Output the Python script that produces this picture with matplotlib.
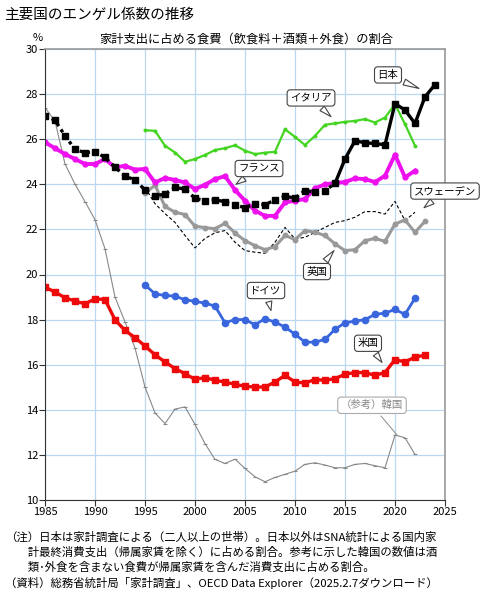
import numpy as np
import matplotlib
matplotlib.use("Agg")
import matplotlib.pyplot as plt

plt.rcParams['font.family'] = ['Noto Sans CJK JP', 'DejaVu Sans']

# ---------------------------------------------------------------
# data
# ---------------------------------------------------------------
yrs_japan = list(range(1985, 2025))
japan = [27.05, 26.84, 26.15, 25.55, 25.40, 25.45, 25.19, 24.76, 24.37, 24.19,
         23.75, 23.48, 23.57, 23.86, 23.79, 23.38, 23.27, 23.32, 23.22, 23.07,
         22.97, 23.13, 23.10, 23.30, 23.47, 23.39, 23.72, 23.66, 23.72, 24.04,
         25.12, 25.93, 25.84, 25.81, 25.75, 27.58, 27.29, 26.70, 27.88, 28.42]
japan_solid_from = 2014

yrs_italy = list(range(1995, 2023))
italy = [26.40, 26.37, 25.71, 25.41, 25.00, 25.12, 25.30, 25.52, 25.60, 25.73,
         25.49, 25.34, 25.40, 25.44, 26.44, 26.10, 25.74, 26.15, 26.64, 26.70,
         26.77, 26.81, 26.89, 26.74, 26.96, 27.55, 26.67, 25.71]

yrs_france = list(range(1985, 2023))
france = [25.86, 25.60, 25.34, 25.12, 24.90, 24.90, 25.12, 24.75, 24.82, 24.65,
          24.68, 24.08, 24.28, 24.19, 24.08, 23.79, 23.98, 24.23, 24.36, 23.75,
          23.27, 22.83, 22.60, 22.60, 23.20, 23.27, 23.35, 23.82, 24.00, 24.06,
          24.10, 24.26, 24.23, 24.10, 24.38, 25.31, 24.31, 24.60]

yrs_sweden = list(range(1995, 2023))
sweden = [23.86, 23.14, 22.70, 22.31, 21.73, 21.18, 21.60, 21.85, 21.95, 21.43,
          21.06, 20.99, 20.94, 21.43, 22.09, 21.58, 21.65, 21.87, 22.09, 22.31,
          22.39, 22.54, 22.79, 22.79, 22.68, 23.24, 22.39, 22.76]

yrs_uk = list(range(1995, 2024))
uk = [23.60, 23.96, 23.02, 22.76, 22.66, 22.14, 22.08, 22.03, 22.27, 21.84,
      21.50, 21.28, 21.10, 21.24, 21.73, 21.55, 21.95, 21.87, 21.73, 21.36,
      21.06, 21.10, 21.50, 21.60, 21.47, 22.24, 22.42, 21.87, 22.36]

yrs_germany = list(range(1995, 2023))
germany = [19.54, 19.14, 19.07, 19.04, 18.88, 18.81, 18.73, 18.60, 17.86, 18.00,
           18.00, 17.77, 18.04, 17.89, 17.67, 17.35, 17.00, 17.00, 17.12, 17.57,
           17.86, 17.93, 18.00, 18.23, 18.29, 18.45, 18.23, 18.95]

yrs_usa = list(range(1985, 2024))
usa = [19.44, 19.22, 18.97, 18.82, 18.70, 18.92, 18.89, 17.99, 17.52, 17.20,
       16.83, 16.44, 16.12, 15.83, 15.60, 15.35, 15.43, 15.31, 15.23, 15.13,
       15.04, 15.01, 15.01, 15.23, 15.53, 15.23, 15.19, 15.34, 15.31, 15.38,
       15.58, 15.65, 15.65, 15.53, 15.65, 16.23, 16.12, 16.34, 16.42]

yrs_korea = list(range(1985, 2023))
korea = [27.40, 26.81, 24.90, 24.01, 23.23, 22.43, 21.14, 19.00, 17.90, 16.74,
         15.01, 13.86, 13.39, 14.03, 14.13, 13.35, 12.50, 11.80, 11.62, 11.81,
         11.40, 11.03, 10.81, 11.00, 11.14, 11.28, 11.58, 11.65, 11.55, 11.43,
         11.43, 11.58, 11.62, 11.52, 11.43, 12.88, 12.76, 12.02]

# callout labels: (text, box centre, tip)
callouts = [
    ("日本", (2019.3, 28.85), (2022.4, 28.25)),
    ("イタリア", (2011.6, 27.83), (2013.6, 27.0)),
    ("フランス", (2006.4, 24.70), (2004.1, 24.0)),
    ("スウェーデン", (2025.0, 23.70), (2022.9, 22.96)),
    ("英国", (2012.2, 20.13), (2013.9, 21.06)),
    ("ドイツ", (2007.1, 19.29), (2007.6, 18.4)),
    ("米国", (2017.3, 16.95), (2018.7, 16.1)),
]
korea_label = ("（参考）韓国", (2017.7, 14.2), (2020.2, 12.88))

notes = [
    "（注）日本は家計調査による（二人以上の世帯）。日本以外はSNA統計による国内家",
    "　　計最終消費支出（帰属家賃を除く）に占める割合。参考に示した韓国の数値は酒",
    "　　類･外食を含まない食費が帰属家賃を含んだ消費支出に占める割合。",
    "（資料）総務省統計局「家計調査」、OECD Data Explorer（2025.2.7ダウンロード）",
]

# ---------------------------------------------------------------
# figure
# ---------------------------------------------------------------
fig = plt.figure(figsize=(4.8, 6.01), dpi=100)
ax = fig.add_axes([45/480, 1-500/601, 400/480, 451/601])

ax.set_xlim(1985, 2025)
ax.set_ylim(10, 30)
ax.set_xticks(range(1985, 2026, 5))
ax.set_yticks(range(10, 31, 2))
ax.grid(True, color='#bcd8f0', linewidth=0.9)
ax.set_axisbelow(True)
ax.tick_params(labelsize=8, length=4, width=0.8, color='#333333', pad=1)
for s in ['left', 'bottom']:
    ax.spines[s].set_color('#333333')
for s in ['top', 'right']:
    ax.spines[s].set_color('#999999')
    ax.spines[s].set_linewidth(1.2)

# Korea (reference)
ax.plot(yrs_korea, korea, color='#888888', lw=0.8, marker='_', ms=3, mew=0.8)
# Sweden
ax.plot(yrs_sweden, sweden, color='black', lw=0.8, ls=(0, (3, 2)))
# UK
ax.plot(yrs_uk, uk, color='#999999', lw=2.2, marker='o', ms=3.2)
# Italy
ax.plot(yrs_italy, italy, color='#44d422', lw=1.6, marker='o', ms=1.8)
# France
ax.plot(yrs_france, france, color='#ee11ee', lw=2.8, marker='o', ms=3.5)
# Germany
ax.plot(yrs_germany, germany, color='#3a66dd', lw=2.0, marker='o', ms=4.5)
# USA
ax.plot(yrs_usa, usa, color='#ee0a0a', lw=2.4, marker='s', ms=5)

# Japan: dotted up to 2014, solid afterwards
jy = np.array(yrs_japan)
jv = np.array(japan)
old = jy <= japan_solid_from
new = jy >= japan_solid_from
ax.plot(jy[old], jv[old], color='black', lw=2.4, ls=(0, (1, 1.2)))
ax.plot(jy[new], jv[new], color='black', lw=2.4)
ax.plot(jy, jv, color='black', lw=0, marker='s', ms=4.8)

# callouts
for txt, xyt, xy in callouts:
    ax.annotate(txt, xy=xy, xytext=xyt, ha='center', va='center', fontsize=7.5,
                annotation_clip=False,
                bbox=dict(boxstyle='round,pad=0.3,rounding_size=0.3',
                          fc='white', ec='#444444', lw=0.8),
                arrowprops=dict(arrowstyle='wedge,tail_width=0.6,shrink_factor=0.5',
                                fc='white', ec='#444444', lw=0.8, shrinkB=0))
txt, xyt, xy = korea_label
ax.annotate(txt, xy=xy, xytext=xyt, ha='center', va='center', fontsize=7.5,
            color='#888888', annotation_clip=False,
            bbox=dict(boxstyle='round,pad=0.3,rounding_size=0.3',
                      fc='white', ec='#aaaaaa', lw=0.8),
            arrowprops=dict(arrowstyle='-', color='#888888', lw=0.7, shrinkB=0))

# titles
fig.text(4/480, 1-15/601, "主要国のエンゲル係数の推移", fontsize=10.5,
         ha='left', va='center')
fig.text(246/480, 1-39/601, "家計支出に占める食費（飲食料＋酒類＋外食）の割合",
         fontsize=8.8, ha='center', va='center')
fig.text(38/480, 1-38/601, "%", fontsize=8, ha='center', va='center')

# notes
note_y = [537, 552, 567, 583]
for line, y in zip(notes, note_y):
    fig.text(5/480, 1-y/601, line, fontsize=8.2, ha='left', va='center')

fig.savefig('out.png', dpi=100)
